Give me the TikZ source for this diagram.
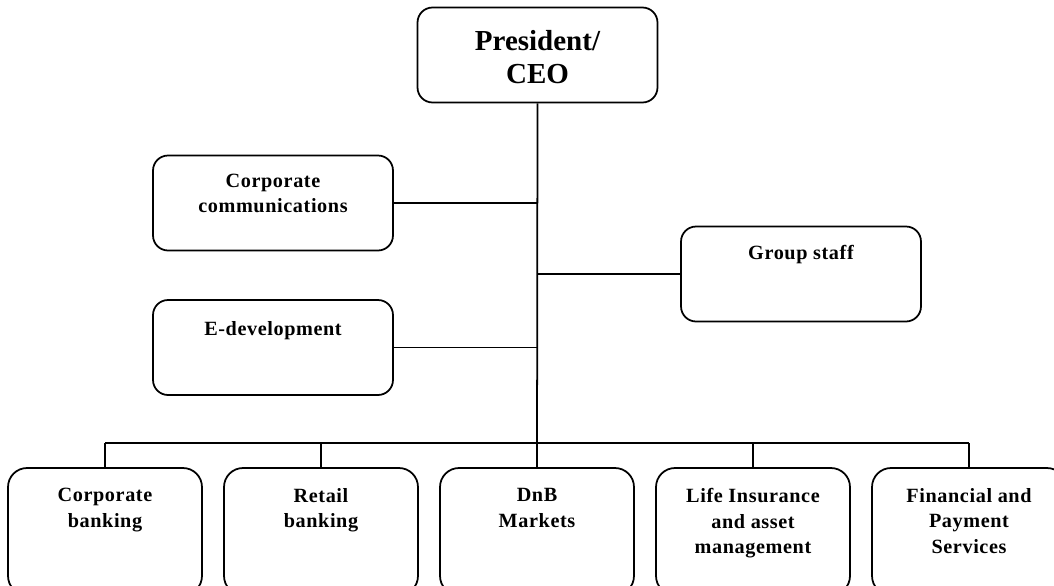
\documentclass[tikz,border=0pt]{standalone}
\usepackage{fontspec}
\setmainfont{Liberation Serif}
\usepackage{tikz}
\usetikzlibrary{positioning}

\begin{document}
\begin{tikzpicture}[x=0.02cm,y=-0.02cm]
  \tikzstyle{unit}=[draw,line width=1pt,rounded corners=0.3cm,minimum width=4.8cm,minimum height=1.9cm,inner sep=0pt]
  \tikzstyle{branch}=[unit,rounded corners=0.38cm,minimum width=3.88cm,minimum height=2.54cm]
  \tikzstyle{lbl}=[anchor=north,align=center,inner sep=0pt,font=\bfseries\fontsize{11.5}{14.4}\selectfont\addfontfeatures{LetterSpace=3}]
  \tikzstyle{link}=[line width=1pt]
  \useasboundingbox (0,0) rectangle (1054,585);

  % top and staff units
  \node[unit] (ceo) at (537.5,55) {};
  \node[lbl,font=\bfseries\fontsize{16.5}{19}\selectfont,yshift=-0.46cm] (ceot) at (ceo.north) {President/\\CEO};
  \node[unit] (comm) at (273,203) {};
  \node[lbl,yshift=-0.38cm] (commt) at (comm.north) {Corporate\\communications};
  \node[unit] (staff) at (801,274) {};
  \node[lbl,yshift=-0.38cm] (stafft) at (staff.north) {Group staff};
  \node[unit] (edev) at (273,347.5) {};
  \node[lbl,yshift=-0.44cm] (edevt) at (edev.north) {E-development};

  % business areas
  \node[branch] (corp) at (105,531.5) {};
  \node[lbl,yshift=-0.42cm] (corpt) at (corp.north) {Corporate\\banking};
  \node[branch] (retail) at (321,531.5) {};
  \node[lbl,yshift=-0.42cm] (retailt) at (retail.north) {Retail\\banking};
  \node[branch] (dnb) at (537,531.5) {};
  \node[lbl,yshift=-0.42cm] (dnbt) at (dnb.north) {DnB\\Markets};
  \node[branch] (life) at (753,531.5) {};
  \node[lbl,yshift=-0.42cm] (lifet) at (life.north) {Life Insurance\\and asset\\management};
  \node[branch] (fin) at (969,531.5) {};
  \node[lbl,yshift=-0.42cm] (fint) at (fin.north) {Financial and\\Payment\\Services};

  \coordinate (bus) at (537,443);

  \draw[link] (ceo.south) -- (dnb.north);
  \draw[link] (comm.east) -- (comm.east -| ceo.south);
  \draw[link] (edev.east) -- (edev.east -| ceo.south);
  \draw[link] (staff.west -| ceo.south) -- (staff.west);
  \draw[link] (bus -| corp.north) -- (bus -| fin.north);
  \foreach \b in {corp,retail,life,fin}
    \draw[link] (bus -| \b.north) -- (\b.north);
\end{tikzpicture}
\end{document}
